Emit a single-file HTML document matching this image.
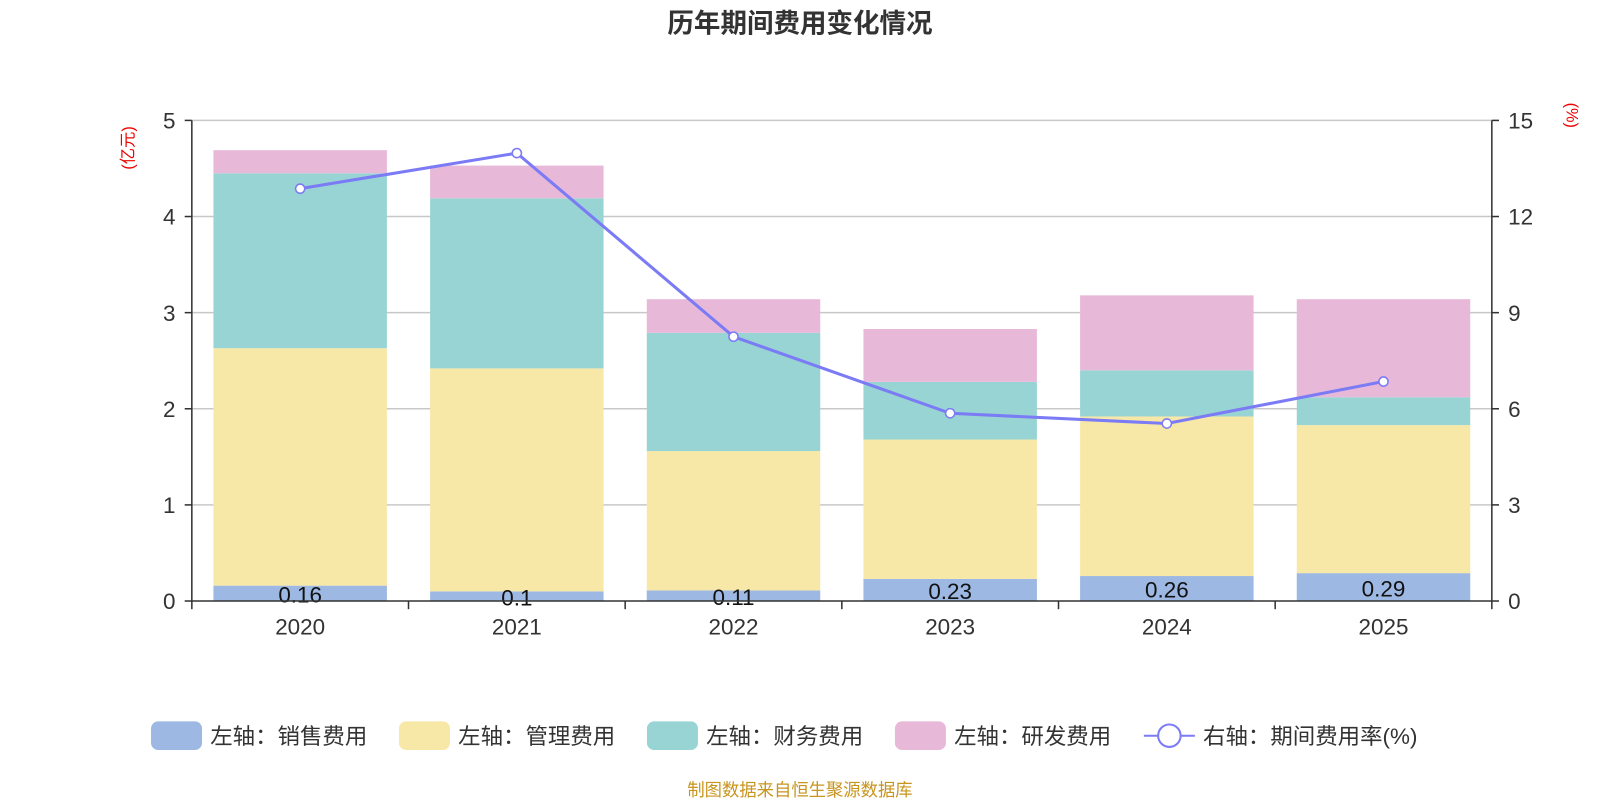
<!DOCTYPE html>
<html><head><meta charset="utf-8"><style>
body{margin:0;background:#fff;width:1600px;height:800px;overflow:hidden;font-family:"Liberation Sans","Noto Sans CJK SC",sans-serif;}
</style></head><body>
<svg id="chart" width="1600" height="800" viewBox="0 0 1568 784" preserveAspectRatio="none" xmlns="http://www.w3.org/2000/svg" font-family="Liberation Sans, Noto Sans CJK SC, sans-serif">
<text x="784" y="32" text-anchor="middle" font-size="26" font-weight="bold" fill="#333">历年期间费用变化情况</text>
<text transform="translate(131,145) rotate(-90)" text-anchor="middle" font-size="16" fill="#e00">(亿元)</text>
<text transform="translate(1535,113) rotate(90)" text-anchor="middle" font-size="16" fill="#e00">(%)</text>
<g id="grid"></g><g id="bars"></g><g id="axes"></g><g id="line"></g>
<g id="legend" font-size="22" fill="#333"></g>
<text x="784" y="780" text-anchor="middle" font-size="17" fill="#c8951e">制图数据来自恒生聚源数据库</text>
</svg>
<script>
const categories=["2020","2021","2022","2023","2024","2025"];
const sales=[0.16,0.1,0.11,0.23,0.26,0.29];
const admin=[2.47,2.32,1.45,1.45,1.66,1.54];
const finance=[1.82,1.77,1.23,0.60,0.48,0.29];
const rnd=[0.24,0.34,0.35,0.55,0.78,1.02];
const rate=[12.87,13.98,8.25,5.86,5.54,6.85];
const leftTicks=[0,1,2,3,4,5];
const rightTicks=[0,3,6,9,12,15];
const salesLabels=["0.16","0.1","0.11","0.23","0.26","0.29"];

const NS="http://www.w3.org/2000/svg";
const X0=188,X1=1462,Y0=589,Y1=118;
const band=(X1-X0)/categories.length, bw=170;
const yL=v=>Y0-(v/5)*(Y0-Y1);
const yR=v=>Y0-(v/15)*(Y0-Y1);
const xc=i=>X0+band*(i+0.5);
function mk(tag,attrs,parent,txt){const e=document.createElementNS(NS,tag);for(const k in attrs)e.setAttribute(k,attrs[k]);if(txt!==undefined)e.textContent=txt;parent.appendChild(e);return e;}
const grid=document.getElementById('grid'),bars=document.getElementById('bars'),axes=document.getElementById('axes'),line=document.getElementById('line'),legend=document.getElementById('legend');
leftTicks.forEach((t,i)=>{
  const y=yL(t);
  if(t>0){const g=mk('line',{x1:X0,x2:X1,y1:y,y2:y,stroke:'#c8c8c8','stroke-width':1.5},grid);
  
  }
  const tl=mk('text',{x:172,y:y+8,'text-anchor':'end','font-size':22,fill:'#333'},axes,t);
  
  
  mk('line',{x1:X0-7,x2:X0,y1:y,y2:y,stroke:'#333','stroke-width':1.5},axes);
});
rightTicks.forEach(t=>{
  const y=yR(t);
  const tl=mk('text',{x:1478,y:y+8,'font-size':22,fill:'#333'},axes,t);
  
  
  mk('line',{x1:X1,x2:X1+7,y1:y,y2:y,stroke:'#333','stroke-width':1.5},axes);
});
mk('line',{x1:X0,x2:X0,y1:Y1,y2:Y0,stroke:'#333','stroke-width':1.5},axes);
mk('line',{x1:X1,x2:X1,y1:Y1,y2:Y0,stroke:'#333','stroke-width':1.5},axes);
mk('line',{x1:X0,x2:X1,y1:Y0,y2:Y0,stroke:'#333','stroke-width':1.5},axes);
const series=[[sales,'#9db8e2','sales'],[admin,'#f8e8a8','admin'],[finance,'#98d4d4','finance'],[rnd,'#e8b8d8','rnd']];
categories.forEach((c,i)=>{
  mk('line',{x1:X0+band*i,x2:X0+band*i,y1:Y0,y2:Y0+8,stroke:'#333','stroke-width':1.5},axes);
  if(i==categories.length-1)mk('line',{x1:X1,x2:X1,y1:Y0,y2:Y0+8,stroke:'#333','stroke-width':1.5},axes);
  const xl=mk('text',{x:xc(i),y:622,'text-anchor':'middle','font-size':22,fill:'#333'},axes,c);
  
  
  let acc=0;
  series.forEach(([arr,col,nm])=>{
    const r=mk('rect',{x:xc(i)-bw/2,y:yL(acc+arr[i]),width:bw,height:yL(acc)-yL(acc+arr[i]),fill:col},bars);
    
    
    acc+=arr[i];
  });
  const lb=mk('text',{x:xc(i),y:yL(sales[i]/2)+9,'text-anchor':'middle','font-size':22,fill:'#111'},bars,salesLabels[i]);
  
  
});
const pts=rate.map((v,i)=>xc(i)+','+yR(v)).join(' ');
const pl=mk('polyline',{points:pts,fill:'none',stroke:'#7b7bf5','stroke-width':3},line);


rate.forEach((v,i)=>{
  const p=mk('circle',{cx:xc(i),cy:yR(v),r:4.5,fill:'#fff',stroke:'#7b7bf5','stroke-width':1.5},line);
  
  
});
const leg=[['左轴：销售费用','#9db8e2',148],['左轴：管理费用','#f8e8a8',391],['左轴：财务费用','#98d4d4',634],['左轴：研发费用','#e8b8d8',877]];
leg.forEach(([t,col,x])=>{
  const g=mk('g',{},legend);
  
  
  mk('rect',{x:x,y:707,width:50,height:28,rx:7,fill:col},g);
  mk('text',{x:x+58,y:729},g,t);
});
const g=mk('g',{},legend);


mk('line',{x1:1121,x2:1171,y1:721,y2:721,stroke:'#7b7bf5','stroke-width':2},g);
mk('circle',{cx:1146,cy:721,r:11,fill:'#fff',stroke:'#7b7bf5','stroke-width':2},g);
mk('text',{x:1179,y:729},g,'右轴：期间费用率(%)');
</script>
</body></html>
